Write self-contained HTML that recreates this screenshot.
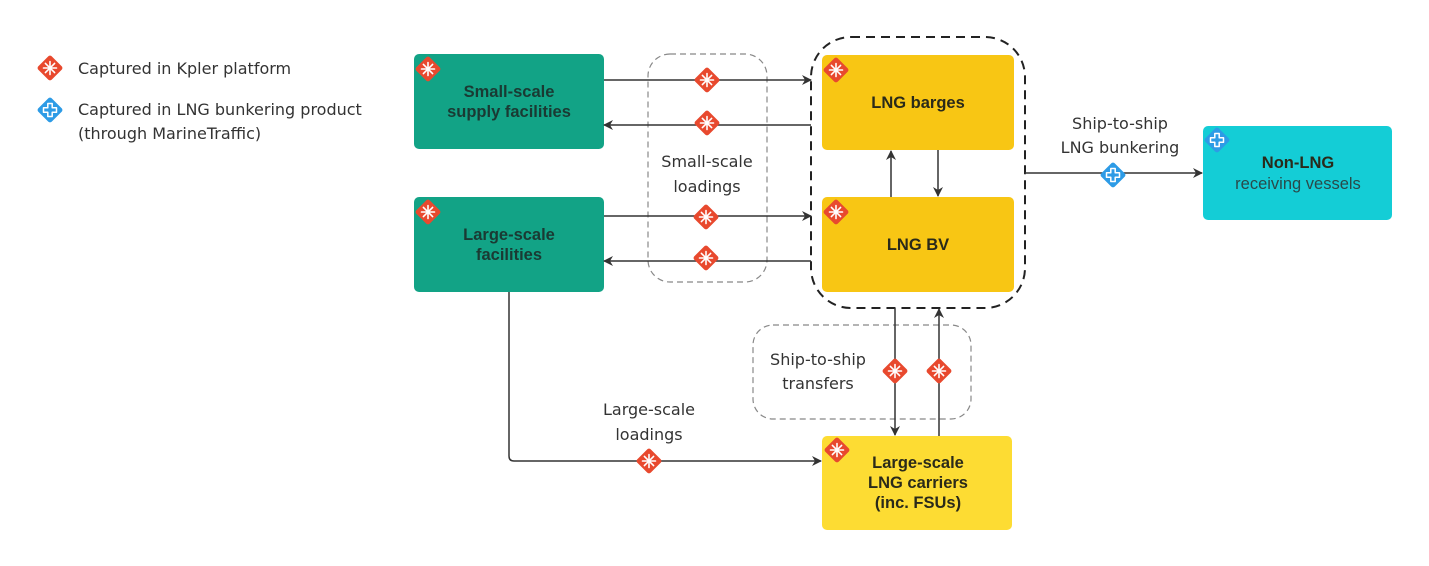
<!DOCTYPE html>
<html><head><meta charset="utf-8"><style>
body{margin:0;background:#fff;}
svg{display:block;font-family:"Liberation Sans","DejaVu Sans",sans-serif;}
.lbl{font-size:16px;fill:#333;font-family:"DejaVu Sans","Liberation Sans",sans-serif;}
.nd{font-size:16.5px;font-weight:bold;fill:#1a3a33;}
.ny{font-size:16.5px;font-weight:bold;fill:#2a2a1a;}
</style></head><body>
<svg width="1429" height="566" viewBox="0 0 1429 566" xmlns="http://www.w3.org/2000/svg">
<defs>
<g id="red">
<rect x="-9.5" y="-9.5" width="19" height="19" rx="2.5" fill="#e8492e" transform="rotate(45)"/>
<g stroke="#fff" stroke-width="1.6" stroke-linecap="round">
<line x1="0" y1="-6.5" x2="0" y2="6.5"/><line x1="-6.5" y1="0" x2="6.5" y2="0"/>
<line x1="-4.6" y1="-4.6" x2="4.6" y2="4.6"/><line x1="-4.6" y1="4.6" x2="4.6" y2="-4.6"/>
</g></g>
<g id="blue">
<rect x="-9.5" y="-9.5" width="19" height="19" rx="2.5" fill="#2d9be6" transform="rotate(45)"/>
<path d="M-2.2,-6.5 H2.2 V-2.2 H6.5 V2.2 H2.2 V6.5 H-2.2 V2.2 H-6.5 V-2.2 H-2.2 Z" fill="none" stroke="#fff" stroke-width="1.5" stroke-linejoin="round"/>
</g>
<marker id="ah" markerWidth="10" markerHeight="10" refX="9" refY="5" orient="auto" markerUnits="userSpaceOnUse">
<path d="M0,0 L10,5 L0,10 L3,5 Z" fill="#333"/>
</marker>
</defs>

<use href="#red" x="50" y="68"/>
<text x="78" y="74" class="lbl">Captured in Kpler platform</text>
<use href="#blue" x="50" y="110"/>
<text x="78" y="115" class="lbl">Captured in LNG bunkering product</text>
<text x="78" y="139" class="lbl">(through MarineTraffic)</text>

<rect x="648" y="54" width="119" height="228" rx="22" fill="none" stroke="#888" stroke-width="1.2" stroke-dasharray="6,4"/>
<rect x="753" y="325" width="218" height="94" rx="20" fill="none" stroke="#888" stroke-width="1.2" stroke-dasharray="6,4"/>
<rect x="811" y="37" width="214" height="271" rx="40" fill="none" stroke="#222" stroke-width="2" stroke-dasharray="9,6"/>

<rect x="414" y="54" width="190" height="95" rx="5" fill="#12a386"/>
<text x="509" y="97" class="nd" text-anchor="middle">Small-scale</text>
<text x="509" y="117" class="nd" text-anchor="middle">supply facilities</text>
<rect x="414" y="197" width="190" height="95" rx="5" fill="#12a386"/>
<text x="509" y="240" class="nd" text-anchor="middle">Large-scale</text>
<text x="509" y="260" class="nd" text-anchor="middle">facilities</text>

<rect x="822" y="55" width="192" height="95" rx="5" fill="#f8c614"/>
<text x="918" y="108" class="ny" text-anchor="middle">LNG barges</text>
<rect x="822" y="197" width="192" height="95" rx="5" fill="#f8c614"/>
<text x="918" y="250" class="ny" text-anchor="middle">LNG BV</text>

<rect x="822" y="436" width="190" height="94" rx="5" fill="#fddc33"/>
<text x="918" y="468" class="ny" text-anchor="middle">Large-scale</text>
<text x="918" y="488" class="ny" text-anchor="middle">LNG carriers</text>
<text x="918" y="508" class="ny" text-anchor="middle">(inc. FSUs)</text>

<rect x="1203" y="126" width="189" height="94" rx="5" fill="#14cdd6"/>
<text x="1298" y="168" class="ny" text-anchor="middle" fill="#1a2a2a">Non-LNG</text>
<text x="1298" y="189" text-anchor="middle" font-size="16.5" fill="#2a4a4a">receiving vessels</text>

<g stroke="#333" stroke-width="1.5" fill="none">
<line x1="604" y1="80" x2="811" y2="80" marker-end="url(#ah)"/>
<line x1="811" y1="125" x2="604" y2="125" marker-end="url(#ah)"/>
<line x1="604" y1="216" x2="811" y2="216" marker-end="url(#ah)"/>
<line x1="811" y1="261" x2="604" y2="261" marker-end="url(#ah)"/>
<line x1="891" y1="197" x2="891" y2="151" marker-end="url(#ah)"/>
<line x1="938" y1="150" x2="938" y2="196" marker-end="url(#ah)"/>
<line x1="1025" y1="173" x2="1202" y2="173" marker-end="url(#ah)"/>
<line x1="895" y1="308" x2="895" y2="435" marker-end="url(#ah)"/>
<line x1="939" y1="436" x2="939" y2="309" marker-end="url(#ah)"/>
<path d="M509,292 V456 Q509,461 514,461 H821" marker-end="url(#ah)"/>
</g>

<use href="#red" x="707" y="80"/>
<use href="#red" x="707" y="123"/>
<use href="#red" x="706" y="217"/>
<use href="#red" x="706" y="258"/>
<use href="#red" x="895" y="371"/>
<use href="#red" x="939" y="371"/>
<use href="#red" x="649" y="461"/>
<use href="#blue" x="1113" y="175"/>
<use href="#red" x="428" y="69"/>
<use href="#red" x="428" y="212"/>
<use href="#red" x="836" y="70"/>
<use href="#red" x="836" y="212"/>
<use href="#red" x="837" y="450"/>
<use href="#blue" x="1217" y="140"/>

<text x="707" y="167" class="lbl" text-anchor="middle">Small-scale</text>
<text x="707" y="192" class="lbl" text-anchor="middle">loadings</text>
<text x="1120" y="129" class="lbl" text-anchor="middle">Ship-to-ship</text>
<text x="1120" y="153" class="lbl" text-anchor="middle">LNG bunkering</text>
<text x="818" y="365" class="lbl" text-anchor="middle">Ship-to-ship</text>
<text x="818" y="389" class="lbl" text-anchor="middle">transfers</text>
<text x="649" y="415" class="lbl" text-anchor="middle">Large-scale</text>
<text x="649" y="440" class="lbl" text-anchor="middle">loadings</text>
</svg>
</body></html>
